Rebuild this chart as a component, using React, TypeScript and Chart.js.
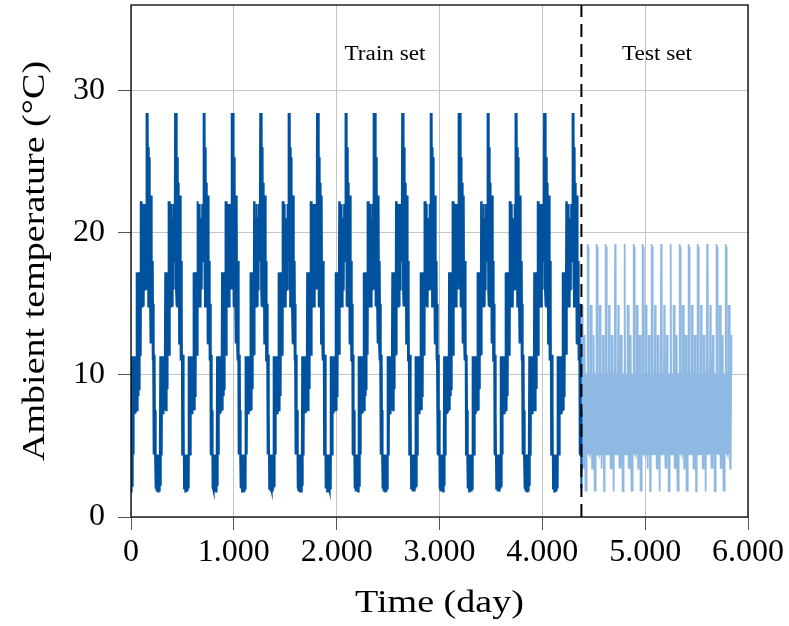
import React, { useEffect, useRef } from "react";
import { Chart, registerables } from "chart.js";

Chart.register(...registerables);

// Axis ticks
const xTickValues = [0, 1000, 2000, 3000, 4000, 5000, 6000];
const xTickLabels = ["0", "1.000", "2.000", "3.000", "4.000", "5.000", "6.000"];
const yTickValues = [0, 10, 20, 30];
const yTickLabels = ["0", "10", "20", "30"];

// One observed cycle of the training series (°C), read from the picture:
// lower and upper values of the daily swing at each step of the cycle
const trainCycleLow = [
  1.8, 2.0, 2.2, 4.4, 4.4, 7.3, 7.3, 7.3, 7.5, 7.5,
  7.5, 7.5, 8.5, 9.0, 11.4, 11.4, 11.4, 14.8, 14.8, 14.8,
  14.8, 14.8, 16.0, 16.0, 18.0, 18.0, 18.0, 16.0, 14.8, 14.8,
  14.8, 14.8, 12.2, 12.2, 12.2, 11.0, 11.0, 4.4, 4.4, 4.4,
  2.0, 2.0, 1.8, 2.0, 1.8, 2.0,
];
const trainCycleHigh = [
  4.4, 11.3, 11.3, 11.3, 11.3, 11.3, 11.3, 11.3, 11.3, 17.2,
  17.2, 17.2, 17.2, 17.2, 17.2, 22.2, 22.2, 20.7, 21.0, 22.0,
  21.0, 20.0, 21.0, 22.0, 22.0, 28.4, 28.4, 28.4, 26.0, 25.3,
  23.5, 22.6, 22.6, 22.6, 18.0, 18.0, 15.0, 11.4, 11.4, 7.5,
  4.4, 4.4, 4.4, 4.4, 4.4, 4.4,
];

const testCycle = [
  19.2, 4.4, 19.0, 4.4, 10.1, 4.5, 10.1, 4.4, 10.1, 4.4,
  14.9, 4.4, 14.9, 4.5, 10.1, 3.4, 10.1, 3.4, 10.1, 12.8,
  4.4, 12.8, 4.4, 10.1, 1.8, 10.1, 1.8, 10.1, 4.4, 10.1,
];

const trainPeriodDays = 276;
const testPeriodDays = 89.5;
const trainEndDay = 4380;
const testEndDay = 5840;
const testPhaseStart = 10;

const annotationTexts = ["Train set", "Test set"];
const annotationDays = [2470, 5115];
const annotationTemps = [32.5, 32.5];

const xTitle = "Time (day)";
const yTitle = "Ambient temperature (°C)";

const DARK = "#00519e";
const LIGHT = "#8fb9e3";
const FONT = '"Liberation Serif", "DejaVu Serif", serif';

function buildTrain() {
  const pts: { x: number; y: number }[] = [];
  const n = trainCycleLow.length;
  const step = trainPeriodDays / n;
  for (let c = 0; c < 100; c++) {
    for (let i = 0; i < n; i++) {
      const x0 = c * trainPeriodDays + i * step;
      if (x0 > trainEndDay) return pts;
      pts.push({ x: x0, y: trainCycleLow[i] });
      const x1 = x0 + step / 2;
      if (x1 > trainEndDay) return pts;
      pts.push({ x: x1, y: trainCycleHigh[i] });
    }
  }
  return pts;
}

function buildTest() {
  const pts: { x: number; y: number }[] = [];
  const n = testCycle.length;
  const step = testPeriodDays / n;
  for (let k = 0; k < 10000; k++) {
    const x = trainEndDay + k * step;
    if (x > testEndDay) break;
    pts.push({ x, y: testCycle[(k + testPhaseStart) % n] });
  }
  return pts;
}

function drawText(
  ctx: CanvasRenderingContext2D,
  text: string,
  x: number,
  y: number,
  size: number,
  rot: number,
  stretch: number
) {
  ctx.save();
  ctx.translate(x, y);
  if (rot) ctx.rotate(rot);
  ctx.scale(stretch, 1);
  ctx.font = `${size}px ${FONT}`;
  ctx.fillStyle = "#000";
  ctx.textAlign = "center";
  ctx.textBaseline = "middle";
  ctx.fillText(text, 0, 0);
  ctx.restore();
}

const overlayPlugin = {
  id: "overlay",
  afterDatasetsDraw(chart: any) {
    const { ctx, chartArea: a, scales } = chart;
    const xs = scales.x;
    const ys = scales.y;
    ctx.save();
    // split line
    const sx = xs.getPixelForValue(trainEndDay);
    ctx.strokeStyle = "#000";
    ctx.lineWidth = 2;
    ctx.setLineDash([13, 7]);
    ctx.beginPath();
    ctx.moveTo(sx, a.bottom);
    ctx.lineTo(sx, a.top);
    ctx.stroke();
    ctx.setLineDash([]);
    // frame
    ctx.lineWidth = 1.3;
    ctx.strokeRect(a.left, a.top, a.right - a.left, a.bottom - a.top);
    ctx.restore();
    // annotations
    annotationTexts.forEach((t, i) => {
      drawText(ctx, t, xs.getPixelForValue(annotationDays[i]), ys.getPixelForValue(annotationTemps[i]), 20, 0, 1.16);
    });
    // axis titles
    drawText(ctx, xTitle, (a.left + a.right) / 2, 604, 32, 0, 1.19);
    drawText(ctx, yTitle, 36, (a.top + a.bottom) / 2, 32, -Math.PI / 2, 1.19);
  },
};

export default function App() {
  const ref = useRef<HTMLCanvasElement | null>(null);
  useEffect(() => {
    document.body.style.margin = "0";
    const canvas = ref.current;
    if (!canvas) return;
    const chart = new Chart(canvas, {
      type: "line",
      data: {
        datasets: [
          {
            label: "Train",
            data: buildTrain(),
            borderColor: DARK,
            borderWidth: 2,
            pointRadius: 0,
            tension: 0,
          },
          {
            label: "Test",
            data: buildTest(),
            borderColor: LIGHT,
            borderWidth: 1.8,
            pointRadius: 0,
            tension: 0,
          },
        ],
      },
      options: {
        animation: false,
        responsive: false,
        devicePixelRatio: 1,
        parsing: false,
        normalized: true,
        layout: { padding: { left: 0, right: 41, top: 5, bottom: 0 } },
        plugins: { legend: { display: false }, tooltip: { enabled: false } },
        scales: {
          x: {
            type: "linear",
            min: 0,
            max: 6000,
            afterBuildTicks: (s: any) => {
              s.ticks = xTickValues.map((v) => ({ value: v }));
            },
            afterFit: (s: any) => {
              s.height = 109;
              s.paddingLeft = 0;
              s.paddingRight = 0;
            },
            ticks: {
              padding: 3,
              color: "#000",
              font: { family: FONT, size: 32 },
              maxRotation: 0,
              autoSkip: false,
              callback: (v: any) => {
                const i = xTickValues.indexOf(Number(v));
                return i >= 0 ? xTickLabels[i] : "";
              },
            },
            grid: { color: "#c4c4c4", lineWidth: 1, tickLength: 13, tickColor: "#555" },
            border: { display: false },
            title: { display: false },
          },
          y: {
            type: "linear",
            min: 0,
            max: 36,
            afterBuildTicks: (s: any) => {
              s.ticks = yTickValues.map((v) => ({ value: v }));
            },
            afterFit: (s: any) => {
              s.width = 131;
              s.paddingTop = 0;
              s.paddingBottom = 0;
            },
            ticks: {
              padding: 13,
              color: "#000",
              font: { family: FONT, size: 32 },
              callback: (v: any) => {
                const i = yTickValues.indexOf(Number(v));
                return i >= 0 ? yTickLabels[i] : "";
              },
            },
            grid: { color: "#c4c4c4", lineWidth: 1, tickLength: 13, tickColor: "#555" },
            border: { display: false },
            title: { display: false },
          },
        },
      },
      plugins: [overlayPlugin],
    } as any);
    return () => chart.destroy();
  }, []);
  return (
    <div style={{ position: "fixed", left: 0, top: 0, width: 789, height: 626 }}>
      <canvas ref={ref} width={789} height={626} style={{ width: 789, height: 626, display: "block" }} />
    </div>
  );
}
